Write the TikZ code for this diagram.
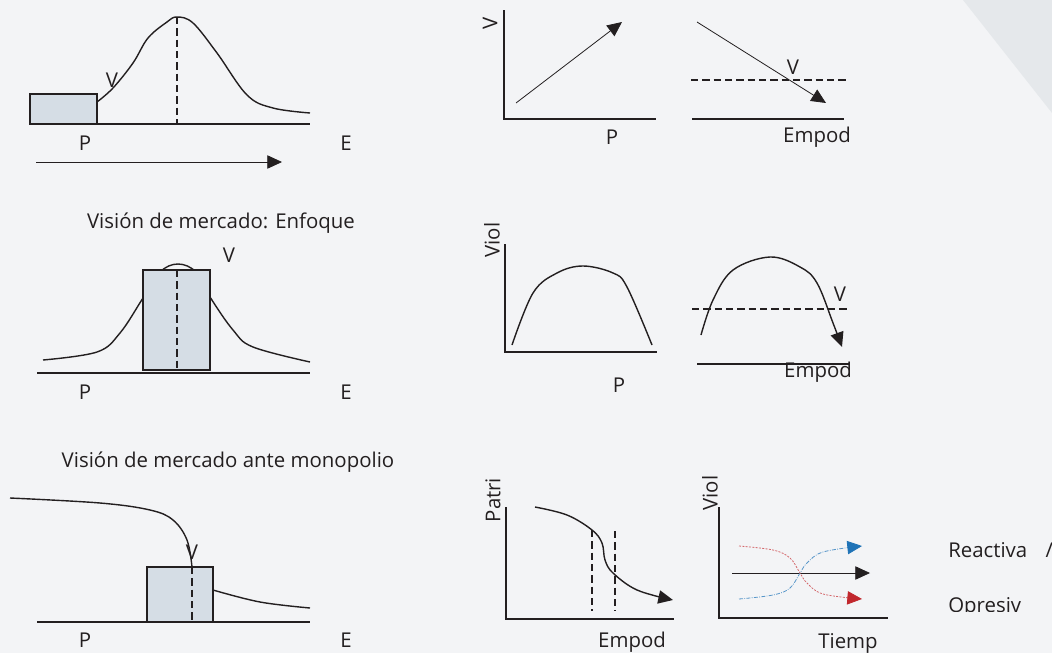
\documentclass[tikz,border=0pt]{standalone}
\usepackage{fontspec}
\setmainfont{Open Sans}
\usetikzlibrary{arrows.meta}
\definecolor{bgpage}{HTML}{F3F4F6}
\definecolor{bgband}{HTML}{E5E8EB}
\definecolor{boxfill}{HTML}{D5DDE5}
\definecolor{reac}{HTML}{1F73B7}
\definecolor{opre}{HTML}{C1272D}
\definecolor{ink}{HTML}{231F20}
\begin{document}
\begin{tikzpicture}[x=0.75pt,y=-0.75pt,font=\fontsize{15.3}{18}\selectfont,text=ink,
  axis/.style={line width=1.2pt,draw=ink},
  curve/.style={line width=1.05pt,draw=ink},
  guide/.style={line width=0.9pt,draw=ink,dash pattern=on 5.5pt off 3pt},
  box/.style={line width=1pt,draw=ink,fill=boxfill},
  tip/.style={-{Triangle[length=11pt,width=10pt]}},
  lbl/.style={inner sep=0pt}]
% page
\fill[bgpage] (0,0) rectangle (1052,653);
\fill[bgband] (963,0) -- (1052,0) -- (1052,113) -- cycle;
\useasboundingbox (0,0) rectangle (1052,653);

% market view, left column
\draw[curve] plot[smooth,tension=0.6] coordinates {(97,102) (113,88) (133,63) (148,38) (167,22) (177,17) (193,23) (217,53) (247,95) (273,108) (310,113)};
\draw[box] (30,94) rectangle (97,124);
\draw[axis] (97,124) -- (310,124);
\draw[guide] (177,17) -- (177,124);
\draw[line width=0.6pt,draw=ink,tip] (36,162) -- (282,162);
\node[lbl] (v1) at (112,80) {V};
\node[lbl] (p1) at (85,143) {P};
\node[lbl] (e1) at (346,143) {E};

\node[lbl] (t2) at (221,223) {Visión de mercado: Enfoque};
\draw[curve] plot[smooth,tension=0.6] coordinates {(43,360) (97,352) (120,333) (143,298) (160,272) (178,264) (196,272) (210,297) (233,330) (253,347) (310,362)};
\draw[box] (143,270) rectangle (210,370);
\draw[axis] (37,373) -- (310,373);
\draw[guide] (177,270) -- (177,373);
\node[lbl] (v2) at (229,255) {V};
\node[lbl] (p2) at (85,392) {P};
\node[lbl] (e2) at (346,392) {E};

\node[lbl] (t3) at (228,462) {Visión de mercado ante monopolio};
\draw[curve] plot[smooth,tension=0.6] coordinates {(10,498) (100,503) (150,510) (173,520) (187,540) (192,567)};
\draw[curve] plot[smooth,tension=0.6] coordinates {(213,590) (260,602) (310,608)};
\draw[box] (147,567) rectangle (213,622);
\draw[axis] (37,622) -- (310,622);
\draw[guide] (192,567) -- (192,622);
\node[lbl] (v3) at (192,552) {V};
\node[lbl] (p3) at (85,640) {P};
\node[lbl] (e3) at (346,640) {E};

% small plots, top row
\draw[axis] (504,10) -- (504,119) -- (656,119);
\draw[line width=0.6pt,draw=ink,tip] (516,103) -- (622,22);
\node[lbl,rotate=90] (v4) at (490,23) {V};
\node[lbl] (p4) at (612,137) {P};
\draw[guide] (691,80) -- (847,80);
\draw[line width=0.6pt,draw=ink,tip] (697,22) -- (826,103);
\draw[axis] (692,119) -- (844,119);
\node[lbl] (v5) at (793,67) {V};
\node[lbl] (x5) at (817,137) {Empod};

% middle row
\draw[axis] (505,244) -- (505,352) -- (657,352);
\draw[curve] plot[smooth,tension=0.6] coordinates {(512,345) (533,293) (557,273) (583,266) (613,273) (627,287) (652,345)};
\node[lbl,rotate=90] (y6) at (492,240) {Viol};
\node[lbl] (p6) at (619,385) {P};
\draw[guide] (692,309) -- (848,309);
\draw[curve,tip] plot[smooth,tension=0.6] coordinates {(701,335) (713,300) (733,270) (770,257) (800,267) (817,283) (833,323) (842,347)};
\draw[axis] (697,364) -- (849,364);
\node[lbl] (v7) at (840,294) {V};
\node[lbl] (x7) at (818,372) {Empod};

% bottom row
\draw[axis] (506,507) -- (506,619) -- (674,619);
\draw[guide] (592,530) -- (592,611);
\draw[guide] (615,531) -- (615,611);
\draw[curve,tip] plot[smooth,tension=0.6] coordinates {(535,507) (567,515) (592,530) (602,543) (605,560) (613,573) (637,590) (673,600)};
\node[lbl,rotate=90] (y8) at (493,500) {Patri};
\node[lbl] (x8) at (632,642) {Empod};

\draw[axis] (719,507) -- (719,618) -- (888,618);
\draw[line width=0.6pt,draw=ink,tip] (732,573) -- (870,573);
\draw[line width=0.6pt,draw=reac!75,dash pattern=on 3pt off 1pt on 0.6pt off 1pt,-{Triangle[length=11pt,width=10pt,color=reac,fill=reac]}]
  plot[smooth,tension=0.6] coordinates {(739,599) (773,595) (790,588) (800,573) (807,563) (823,552) (862,546)};
\draw[line width=0.6pt,draw=opre!70,dash pattern=on 1.5pt off 1pt,-{Triangle[length=11pt,width=10pt,color=opre,fill=opre]}]
  plot[smooth,tension=0.6] coordinates {(739,546) (773,550) (790,558) (800,573) (807,583) (823,594) (862,599)};
\node[lbl,rotate=90] (y9) at (710,493) {Viol};
\node[lbl] (x9) at (848,643) {Tiemp};
\node[lbl,anchor=west] (k1) at (948,550) {Reactiva\hspace{0.9em}/};
\begin{scope}
\clip (940,590) rectangle (1052,611);
\node[lbl,anchor=west] (k2) at (948,607) {Opresiv};
\end{scope}
\end{tikzpicture}
\end{document}
